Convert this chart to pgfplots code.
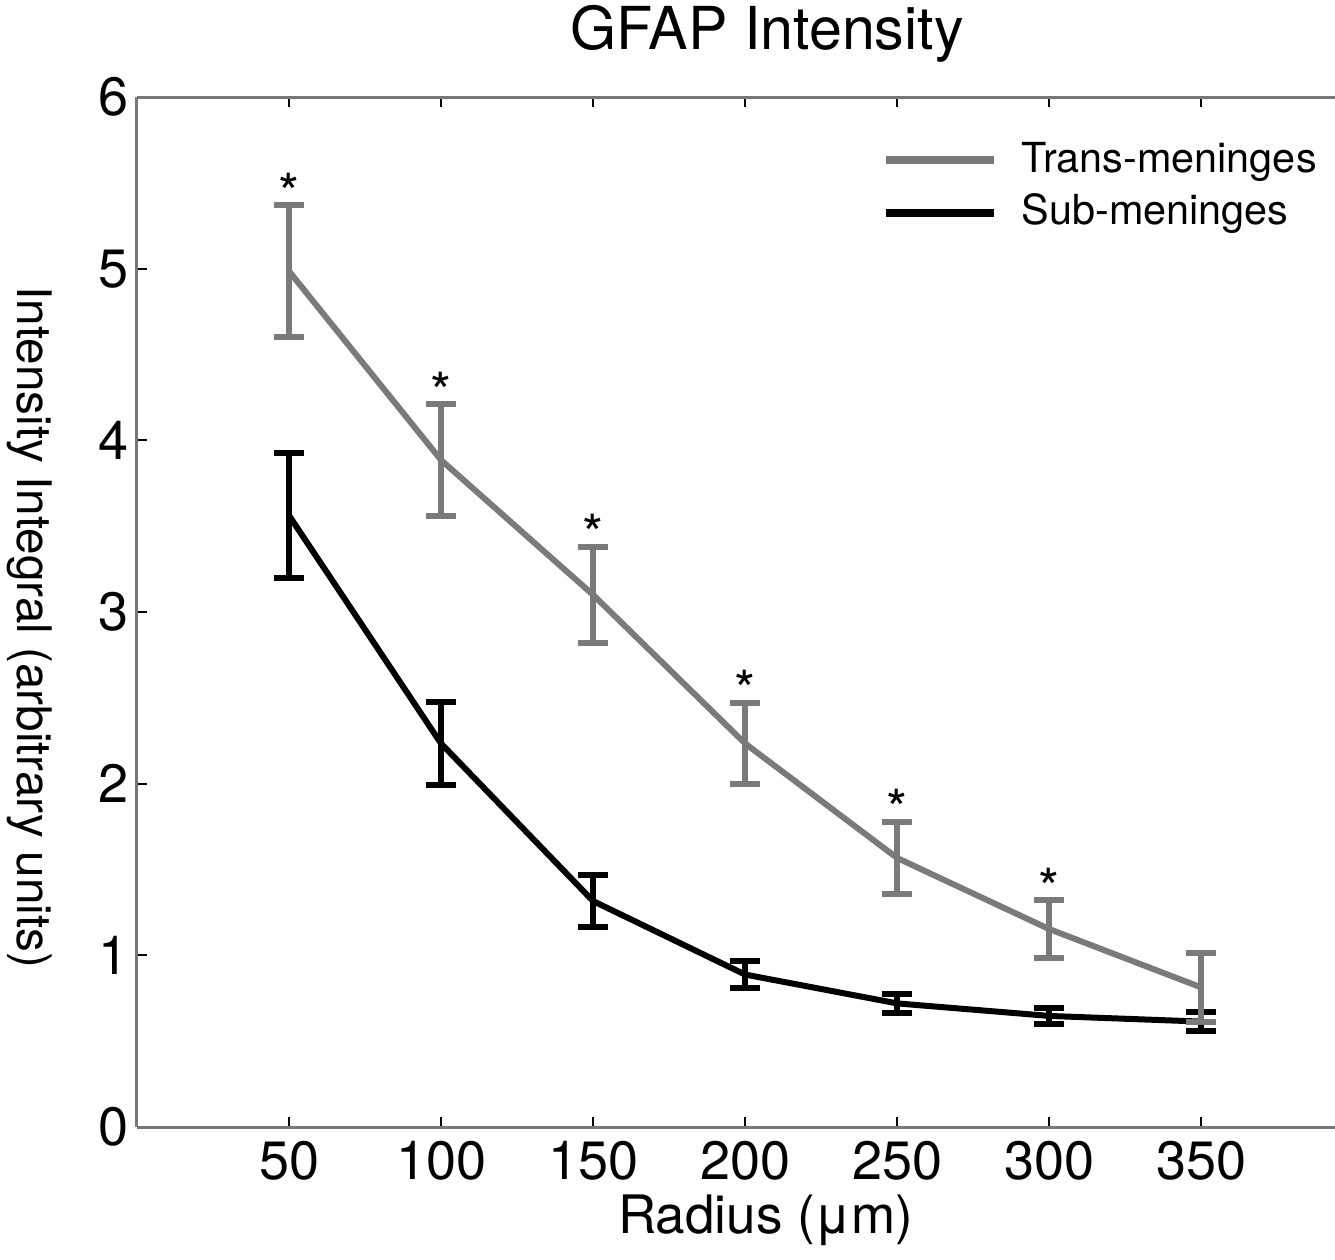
\documentclass[border=0pt]{standalone}
\usepackage{pgfplots}
\pgfplotsset{compat=1.18}
\usepackage{fontspec}
\setmainfont{TeX Gyre Heros}
\definecolor{tgray}{RGB}{122,122,122}
\definecolor{agray}{RGB}{120,120,120}
\begin{document}
\begin{tikzpicture}
\begin{axis}[
  name=ax,
  scale only axis,
  width=299.5pt, height=257.5pt,
  xmin=0, xmax=394, ymin=0, ymax=6,
  xtick={50,100,...,350}, ytick={0,1,...,6},
  axis x line=box, axis y line=left,
  axis line style={-, draw=agray, line width=0.75pt},
  tick align=inside,
  major tick length=2.6pt,
  tick style={black, line width=0.5pt},
  /pgf/number format/assume math mode=true,
  ticklabel style={font=\fontsize{13.5}{15}\selectfont},
  yticklabel style={xshift=1.5pt},
  title={GFAP Intensity},
  title style={font=\fontsize{14.8}{17}\selectfont, at={(axis description cs:0.526,1.0233)}, anchor=base},
  xlabel={Radius (μm)},
  xlabel style={font=\fontsize{13.25}{16}\selectfont, at={(axis description cs:0.525,-0.103)}, anchor=base},
  ylabel={Intensity Integral (arbitrary units)},
  ylabel style={font=\fontsize{11.9}{14}\selectfont, rotate=180, at={(axis description cs:-0.09,0.485)}, anchor=center},
  legend style={draw=none, fill=none, at={(axis description cs:0.621,0.965)}, anchor=north west,
    font=\fontsize{10.35}{12}\selectfont, inner sep=0pt, row sep=0pt,
    legend cell align=left},
  legend image code/.code={\draw[#1, line width=2pt] (0pt,0pt) -- (27pt,0pt); \path (31.75pt,0pt);},
]
\addplot[black, line width=1.5pt, forget plot,
  error bars/.cd, y dir=both, y explicit,
  error bar style={line width=1.5pt, black},
  error mark options={rotate=90, mark size=3.75pt, line width=1.5pt, black}]
  table[x=x, y=y, y error=e] {
x y e
50 3.562 0.364
100 2.234 0.242
150 1.316 0.151
200 0.888 0.079
250 0.720 0.055
300 0.647 0.047
350 0.614 0.055
};
\addplot[tgray, line width=1.5pt, forget plot,
  error bars/.cd, y dir=both, y explicit,
  error bar style={line width=1.5pt, tgray},
  error mark options={rotate=90, mark size=3.75pt, line width=1.5pt, tgray}]
  table[x=x, y=y, y error=e] {
x y e
50 4.985 0.385
100 3.885 0.325
150 3.100 0.280
200 2.234 0.236
250 1.567 0.210
300 1.153 0.169
350 0.813 0.200
};
\addplot[draw=none, mark=none, forget plot,
  nodes near coords={*},
  every node near coord/.append style={anchor=base, yshift=-1.75pt, font=\fontsize{13.5}{15}\selectfont, text=black, inner sep=0pt}]
  table {
x y
50 5.370
100 4.210
150 3.380
200 2.470
250 1.777
300 1.322
};
\addlegendimage{tgray}
\addlegendentry{Trans-meninges}
\addlegendimage{black}
\addlegendentry{Sub-meninges}
\end{axis}
\pgfresetboundingbox
\path ([xshift=-34.25pt,yshift=-33.25pt]ax.south west) rectangle ([yshift=24.25pt]ax.north east);
\end{tikzpicture}
\end{document}
